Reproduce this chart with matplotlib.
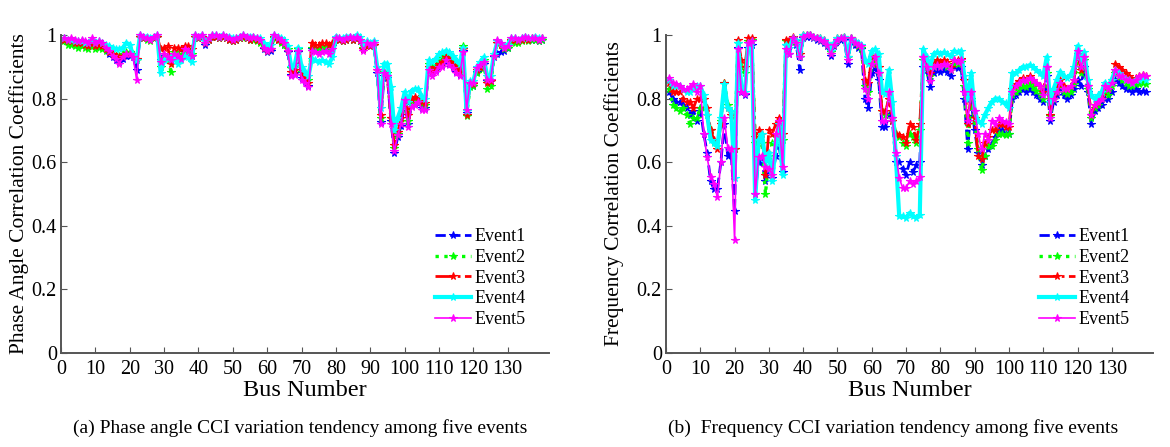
import matplotlib
matplotlib.use('Agg')
import matplotlib.pyplot as plt

plt.rcParams['font.family'] = ['Liberation Serif', 'DejaVu Serif']

bus = list(range(1, 141))
event_labels = ['Event1', 'Event2', 'Event3', 'Event4', 'Event5']
xticks = list(range(0, 131, 10))
yticks = [0, 0.2, 0.4, 0.6, 0.8, 1.0]
ytick_labels = ['0', '0.2', '0.4', '0.6', '0.8', '1']

# ---------------- (a) Phase angle CCI ----------------
phase_e1 = [0.985, 0.98, 0.985, 0.98, 0.975, 0.98, 0.975, 0.97, 0.985, 0.97,
            0.975, 0.97, 0.955, 0.94, 0.93, 0.92, 0.915, 0.925, 0.935, 0.935,
            0.93, 0.89, 0.995, 0.99, 0.99, 0.985, 0.99, 0.995, 0.92, 0.935,
            0.93, 0.92, 0.935, 0.93, 0.93, 0.945, 0.945, 0.935, 0.995, 0.99,
            0.995, 0.97, 0.985, 0.995, 0.995, 0.99, 0.995, 0.99, 0.985, 0.98,
            0.985, 0.99, 0.995, 0.99, 0.985, 0.99, 0.985, 0.98, 0.955, 0.945,
            0.95, 0.995, 0.985, 0.98, 0.97, 0.945, 0.875, 0.88, 0.945, 0.865,
            0.855, 0.84, 0.955, 0.955, 0.95, 0.955, 0.96, 0.955, 0.965, 0.99,
            0.985, 0.98, 0.985, 0.99, 0.985, 0.99, 0.98, 0.955, 0.97, 0.965,
            0.97, 0.88, 0.725, 0.87, 0.865, 0.73, 0.63, 0.68, 0.715, 0.79,
            0.72, 0.78, 0.785, 0.785, 0.77, 0.77, 0.9, 0.88, 0.89, 0.905,
            0.905, 0.92, 0.91, 0.9, 0.885, 0.875, 0.95, 0.755, 0.845, 0.84,
            0.885, 0.9, 0.91, 0.855, 0.855, 0.93, 0.94, 0.945, 0.95, 0.96,
            0.985, 0.985, 0.98, 0.985, 0.99, 0.985, 0.985, 0.985, 0.98, 0.985]
phase_e2 = [0.98, 0.97, 0.97, 0.965, 0.96, 0.965, 0.96, 0.955, 0.965, 0.955,
            0.96, 0.955, 0.95, 0.945, 0.94, 0.935, 0.935, 0.94, 0.945, 0.945,
            0.94, 0.92, 0.995, 0.99, 0.985, 0.98, 0.99, 0.995, 0.9, 0.93,
            0.935, 0.885, 0.945, 0.94, 0.935, 0.95, 0.95, 0.94, 0.995, 0.99,
            0.995, 0.975, 0.985, 0.995, 0.995, 0.99, 0.995, 0.99, 0.985, 0.98,
            0.985, 0.99, 0.99, 0.99, 0.985, 0.985, 0.98, 0.975, 0.96, 0.95,
            0.955, 0.99, 0.985, 0.975, 0.97, 0.955, 0.895, 0.9, 0.955, 0.885,
            0.87, 0.86, 0.96, 0.96, 0.955, 0.96, 0.965, 0.96, 0.97, 0.99,
            0.985, 0.98, 0.985, 0.99, 0.985, 0.99, 0.98, 0.96, 0.975, 0.97,
            0.97, 0.9, 0.74, 0.885, 0.88, 0.74, 0.645, 0.69, 0.73, 0.8,
            0.73, 0.79, 0.795, 0.8, 0.785, 0.78, 0.91, 0.895, 0.905, 0.92,
            0.935, 0.945, 0.94, 0.925, 0.905, 0.895, 0.965, 0.745, 0.835, 0.84,
            0.88, 0.895, 0.92, 0.83, 0.84, 0.935, 0.975, 0.97, 0.955, 0.96,
            0.98, 0.975, 0.975, 0.98, 0.985, 0.98, 0.985, 0.985, 0.98, 0.985]
phase_e3 = [0.985, 0.98, 0.98, 0.975, 0.975, 0.975, 0.97, 0.965, 0.975, 0.965,
            0.97, 0.965, 0.955, 0.945, 0.94, 0.935, 0.93, 0.935, 0.94, 0.94,
            0.935, 0.925, 0.995, 0.99, 0.99, 0.985, 0.99, 0.995, 0.955, 0.96,
            0.965, 0.91, 0.96, 0.96, 0.955, 0.965, 0.965, 0.955, 0.995, 0.99,
            0.995, 0.975, 0.985, 0.995, 0.995, 0.99, 0.995, 0.99, 0.985, 0.98,
            0.985, 0.99, 0.995, 0.99, 0.985, 0.99, 0.985, 0.98, 0.96, 0.95,
            0.955, 0.995, 0.985, 0.98, 0.975, 0.95, 0.885, 0.89, 0.95, 0.875,
            0.865, 0.85, 0.975, 0.97, 0.97, 0.975, 0.975, 0.97, 0.975, 0.99,
            0.985, 0.98, 0.985, 0.99, 0.985, 0.99, 0.98, 0.955, 0.97, 0.965,
            0.97, 0.89, 0.75, 0.88, 0.87, 0.74, 0.655, 0.695, 0.74, 0.8,
            0.75, 0.8, 0.805, 0.8, 0.79, 0.785, 0.9, 0.885, 0.895, 0.91,
            0.915, 0.93, 0.925, 0.91, 0.895, 0.885, 0.955, 0.75, 0.845, 0.845,
            0.89, 0.9, 0.915, 0.85, 0.855, 0.935, 0.975, 0.97, 0.96, 0.965,
            0.985, 0.985, 0.98, 0.985, 0.99, 0.985, 0.99, 0.99, 0.985, 0.99]
phase_e4 = [0.99, 0.985, 0.985, 0.98, 0.98, 0.98, 0.975, 0.975, 0.985, 0.975,
            0.98, 0.975, 0.97, 0.965, 0.96, 0.955, 0.955, 0.96, 0.975, 0.97,
            0.935, 0.92, 1.0, 0.995, 0.995, 0.99, 0.995, 1.0, 0.88, 0.92,
            0.925, 0.93, 0.925, 0.91, 0.92, 0.935, 0.93, 0.915, 1.0, 0.995,
            1.0, 0.98, 0.99, 1.0, 1.0, 0.995, 1.0, 0.995, 0.995, 0.99,
            0.99, 0.995, 1.0, 0.995, 0.995, 0.995, 0.99, 0.99, 0.975, 0.965,
            0.97, 1.0, 0.995, 0.99, 0.985, 0.965, 0.9, 0.905, 0.96, 0.9,
            0.885, 0.87, 0.925, 0.92, 0.915, 0.92, 0.915, 0.91, 0.93, 0.995,
            0.99, 0.99, 0.995, 0.995, 0.99, 1.0, 0.995, 0.97, 0.98, 0.975,
            0.98, 0.9, 0.77, 0.91, 0.91, 0.835, 0.7, 0.74, 0.77, 0.82,
            0.79, 0.825, 0.83, 0.83, 0.805, 0.8, 0.92, 0.915, 0.925, 0.94,
            0.945, 0.95, 0.945, 0.935, 0.92, 0.91, 0.96, 0.76, 0.855, 0.855,
            0.9, 0.915, 0.93, 0.87, 0.87, 0.94, 0.98, 0.975, 0.965, 0.97,
            0.99, 0.99, 0.985, 0.99, 0.995, 0.99, 0.99, 0.995, 0.99, 0.99]
phase_e5 = [0.99, 0.985, 0.99, 0.985, 0.98, 0.985, 0.98, 0.975, 0.99, 0.975,
            0.98, 0.975, 0.96, 0.95, 0.935, 0.925, 0.91, 0.93, 0.94, 0.94,
            0.93, 0.86, 1.0, 0.995, 0.99, 0.985, 0.995, 1.0, 0.915, 0.94,
            0.93, 0.92, 0.94, 0.935, 0.925, 0.955, 0.95, 0.935, 1.0, 0.995,
            1.0, 0.975, 0.99, 1.0, 1.0, 0.995, 1.0, 0.995, 0.99, 0.985,
            0.99, 0.995, 1.0, 0.995, 0.99, 0.995, 0.99, 0.985, 0.96, 0.95,
            0.955, 1.0, 0.99, 0.985, 0.975, 0.95, 0.87, 0.875, 0.95, 0.86,
            0.85, 0.835, 0.95, 0.945, 0.94, 0.945, 0.95, 0.94, 0.955, 0.99,
            0.99, 0.985, 0.99, 0.995, 0.99, 0.995, 0.985, 0.95, 0.975, 0.97,
            0.975, 0.89, 0.72, 0.88, 0.87, 0.72, 0.635, 0.685, 0.72, 0.795,
            0.71, 0.775, 0.78, 0.79, 0.765, 0.765, 0.89, 0.87, 0.885, 0.9,
            0.9, 0.92, 0.905, 0.895, 0.88, 0.87, 0.945, 0.765, 0.85, 0.85,
            0.895, 0.905, 0.915, 0.86, 0.86, 0.935, 0.985, 0.975, 0.96, 0.965,
            0.99, 0.99, 0.985, 0.99, 0.995, 0.99, 0.99, 0.99, 0.985, 0.99]

# ---------------- (b) Frequency CCI ----------------
freq_e1 = [0.82, 0.8, 0.79, 0.79, 0.78, 0.77, 0.75, 0.76, 0.73, 0.77,
           0.69, 0.63, 0.54, 0.515, 0.515, 0.6, 0.72, 0.62, 0.63, 0.445,
           0.96, 0.82, 0.81, 0.96, 0.97, 0.5, 0.6, 0.6, 0.54, 0.57,
           0.55, 0.62, 0.65, 0.57, 0.97, 0.94, 0.985, 0.97, 0.89, 0.99,
           0.995, 0.995, 0.99, 0.985, 0.98, 0.975, 0.965, 0.935, 0.965, 0.98,
           0.985, 0.985, 0.91, 0.985, 0.97, 0.96, 0.955, 0.8, 0.77, 0.88,
           0.9, 0.86, 0.71, 0.71, 0.75, 0.73, 0.6, 0.6, 0.58, 0.56,
           0.6, 0.57, 0.59, 0.6, 0.9, 0.89, 0.835, 0.88, 0.89, 0.885,
           0.89, 0.885, 0.87, 0.9, 0.895, 0.9, 0.8, 0.64, 0.79, 0.7,
           0.63, 0.59, 0.62, 0.64, 0.66, 0.68, 0.7, 0.7, 0.69, 0.69,
           0.8, 0.81, 0.82, 0.83, 0.82, 0.83, 0.82, 0.81, 0.8, 0.79,
           0.87, 0.73, 0.79, 0.81, 0.83, 0.81, 0.8, 0.81, 0.83, 0.86,
           0.84, 0.9, 0.82, 0.72, 0.76, 0.77, 0.78, 0.8, 0.8, 0.82,
           0.86, 0.85, 0.84, 0.83, 0.83, 0.82, 0.83, 0.82, 0.825, 0.82]
freq_e2 = [0.83, 0.78, 0.77, 0.76, 0.77, 0.75, 0.72, 0.74, 0.74, 0.77,
           0.77, 0.75, 0.7, 0.665, 0.65, 0.73, 0.85, 0.78, 0.76, 0.64,
           0.975, 0.9, 0.88, 0.98, 0.985, 0.66, 0.68, 0.66, 0.5, 0.62,
           0.66, 0.68, 0.71, 0.67, 0.98, 0.97, 0.99, 0.98, 0.93, 0.995,
           1.0, 1.0, 0.995, 0.99, 0.985, 0.98, 0.97, 0.945, 0.97, 0.985,
           0.99, 0.99, 0.93, 0.99, 0.975, 0.965, 0.96, 0.84, 0.82, 0.91,
           0.92, 0.88, 0.76, 0.75, 0.8, 0.74, 0.69, 0.68, 0.66, 0.65,
           0.69, 0.68, 0.66, 0.7, 0.92, 0.9, 0.87, 0.9, 0.91, 0.905,
           0.91, 0.9, 0.89, 0.91, 0.91, 0.915, 0.84, 0.66, 0.8, 0.73,
           0.64, 0.575, 0.62, 0.65, 0.65, 0.67, 0.69, 0.69, 0.685, 0.69,
           0.81, 0.82, 0.83, 0.84, 0.835, 0.845, 0.835, 0.825, 0.815, 0.8,
           0.88, 0.745, 0.8, 0.82, 0.84, 0.82, 0.815, 0.82, 0.845, 0.93,
           0.88, 0.92, 0.83, 0.74, 0.77, 0.78, 0.8, 0.82, 0.81, 0.84,
           0.88, 0.87, 0.86, 0.85, 0.84, 0.84, 0.845, 0.845, 0.85, 0.845]
freq_e3 = [0.85, 0.82, 0.82, 0.82, 0.8, 0.79, 0.79, 0.77, 0.8, 0.8,
           0.8, 0.77, 0.7, 0.67, 0.64, 0.72, 0.85, 0.77, 0.75, 0.64,
           0.985, 0.92, 0.9, 0.99, 0.99, 0.68, 0.7, 0.69, 0.56, 0.7,
           0.69, 0.72, 0.74, 0.69, 0.985, 0.985, 0.995, 0.985, 0.94, 1.0,
           1.0, 1.0, 0.995, 0.99, 0.99, 0.985, 0.975, 0.95, 0.975, 0.99,
           0.99, 0.995, 0.93, 0.99, 0.98, 0.97, 0.965, 0.86, 0.85, 0.93,
           0.93, 0.9, 0.76, 0.76, 0.8, 0.73, 0.69, 0.685, 0.68, 0.66,
           0.72, 0.71, 0.67, 0.72, 0.93, 0.91, 0.88, 0.91, 0.92, 0.915,
           0.92, 0.915, 0.9, 0.92, 0.92, 0.925, 0.86, 0.72, 0.82, 0.74,
           0.62, 0.61, 0.66, 0.68, 0.7, 0.7, 0.72, 0.72, 0.71, 0.71,
           0.83, 0.845, 0.855, 0.865, 0.86, 0.87, 0.86, 0.85, 0.84, 0.82,
           0.9, 0.75, 0.81, 0.835, 0.86, 0.84, 0.83, 0.84, 0.86, 0.94,
           0.89, 0.93, 0.84, 0.75, 0.78, 0.79, 0.81, 0.84, 0.83, 0.86,
           0.91, 0.9, 0.89, 0.88, 0.87, 0.86, 0.865, 0.87, 0.875, 0.87]
freq_e4 = [0.86, 0.84, 0.84, 0.84, 0.83, 0.82, 0.82, 0.83, 0.84, 0.84,
           0.81, 0.75, 0.67, 0.66, 0.65, 0.74, 0.845, 0.77, 0.76, 0.55,
           0.975, 0.83, 0.82, 0.975, 0.98, 0.48, 0.67, 0.69, 0.6, 0.63,
           0.54, 0.66, 0.72, 0.56, 0.97, 0.96, 0.99, 0.985, 0.93, 1.0,
           1.0, 1.0, 0.995, 0.99, 0.99, 0.985, 0.975, 0.95, 0.975, 0.99,
           0.99, 0.995, 0.93, 0.99, 0.98, 0.975, 0.97, 0.92, 0.91, 0.95,
           0.955, 0.94, 0.82, 0.815, 0.89, 0.79, 0.62, 0.43, 0.43, 0.425,
           0.44, 0.43, 0.425, 0.435, 0.955, 0.93, 0.9, 0.94, 0.945, 0.94,
           0.945, 0.94, 0.935, 0.95, 0.945, 0.95, 0.87, 0.8, 0.88, 0.76,
           0.73, 0.72, 0.75, 0.77, 0.79, 0.8, 0.8, 0.79, 0.785, 0.77,
           0.88, 0.88, 0.89, 0.9, 0.9, 0.905, 0.9, 0.89, 0.88, 0.87,
           0.93, 0.79, 0.83, 0.86, 0.885, 0.87, 0.865, 0.875, 0.9, 0.965,
           0.92, 0.945, 0.86, 0.81, 0.8, 0.81, 0.82, 0.85, 0.84, 0.86,
           0.89, 0.88, 0.87, 0.86, 0.86, 0.85, 0.86, 0.86, 0.865, 0.86]
freq_e5 = [0.865, 0.85, 0.845, 0.84, 0.83, 0.83, 0.835, 0.845, 0.82, 0.84,
           0.69, 0.615, 0.555, 0.53, 0.49, 0.6, 0.74, 0.645, 0.64, 0.355,
           0.955, 0.82, 0.815, 0.975, 0.98, 0.5, 0.615, 0.62, 0.585, 0.58,
           0.56, 0.69, 0.73, 0.585, 0.955, 0.94, 0.99, 0.975, 0.93, 0.995,
           1.0, 1.0, 0.995, 0.99, 0.985, 0.98, 0.97, 0.94, 0.97, 0.985,
           0.99, 0.99, 0.92, 0.99, 0.975, 0.97, 0.965, 0.83, 0.8, 0.91,
           0.93, 0.88, 0.73, 0.73, 0.82, 0.74, 0.63, 0.55, 0.52, 0.52,
           0.54, 0.53, 0.54, 0.555, 0.93, 0.9, 0.855, 0.9, 0.905, 0.9,
           0.91, 0.905, 0.89, 0.92, 0.915, 0.92, 0.82, 0.73, 0.82, 0.76,
           0.69, 0.64, 0.69, 0.67, 0.73, 0.72, 0.74, 0.73, 0.725, 0.72,
           0.82, 0.84, 0.85, 0.86, 0.855, 0.865, 0.86, 0.85, 0.84, 0.81,
           0.9, 0.74, 0.8, 0.82, 0.85, 0.83, 0.83, 0.84, 0.86, 0.95,
           0.9, 0.93, 0.84, 0.75, 0.78, 0.79, 0.8, 0.84, 0.83, 0.85,
           0.89, 0.87, 0.87, 0.86, 0.86, 0.85, 0.86, 0.87, 0.875, 0.87]

phase_series = [phase_e1, phase_e2, phase_e3, phase_e4, phase_e5]
freq_series = [freq_e1, freq_e2, freq_e3, freq_e4, freq_e5]

styles = [
    dict(color='#0000ff', linestyle='--', linewidth=2.0),
    dict(color='#00ff00', linestyle=':', linewidth=2.4),
    dict(color='#ff0000', linestyle='-.', linewidth=2.0),
    dict(color='#00ffff', linestyle='-', linewidth=3.0),
    dict(color='#ff00ff', linestyle='-', linewidth=1.2),
]

W, H = 1170, 447
fig = plt.figure(figsize=(W / 100, H / 100), dpi=100)
axA = fig.add_axes([61 / W, 94 / H, 488 / W, 318 / H])
axB = fig.add_axes([666 / W, 94 / H, 487 / W, 318 / H])


def style_axes(ax, ylabel, ylabelpad):
    ax.set_xlim(0, 142)
    ax.set_ylim(0, 1.0)
    ax.set_xticks(xticks)
    ax.set_xticklabels([str(t) for t in xticks])
    ax.set_yticks(yticks)
    ax.set_yticklabels(ytick_labels)
    for s in ['top', 'right']:
        ax.spines[s].set_visible(False)
    for s in ['left', 'bottom']:
        ax.spines[s].set_color('#555555')
        ax.spines[s].set_linewidth(1.4)
    ax.tick_params(direction='in', length=4, width=0.8, labelsize=14.5,
                   colors='#555555', labelcolor='black')
    ax.tick_params(axis='x', pad=5)
    ax.tick_params(axis='y', pad=3)
    ax.set_xlabel('Bus Number', fontsize=17.5, labelpad=1)
    ax.set_ylabel(ylabel, fontsize=15.5, labelpad=ylabelpad)
    ax.patch.set_visible(False)


for ax, series, ylabel, lp in [(axA, phase_series, 'Phase Angle Correlation Coefficients', 2),
                               (axB, freq_series, 'Frequency Correlation Coefficients', 9)]:
    for vals, st, lab in zip(series, styles, event_labels):
        ax.plot(bus, vals, marker='*', markersize=5.5, markeredgewidth=0.8,
                label=lab, clip_on=False, **st)
    style_axes(ax, ylabel, lp)
    ax.legend(loc='lower right', bbox_to_anchor=(0.975, 0.045), frameon=False,
              fontsize=13, handlelength=2.0, handletextpad=0.2,
              labelspacing=0.2, borderaxespad=0.2)

fig.text(300 / W, 1 - 428 / H, '(a) Phase angle CCI variation tendency among five events',
         ha='center', va='center', fontsize=14)
fig.text(893 / W, 1 - 428 / H, '(b)  Frequency CCI variation tendency among five events',
         ha='center', va='center', fontsize=14)

fig.savefig('out.png', dpi=100)
